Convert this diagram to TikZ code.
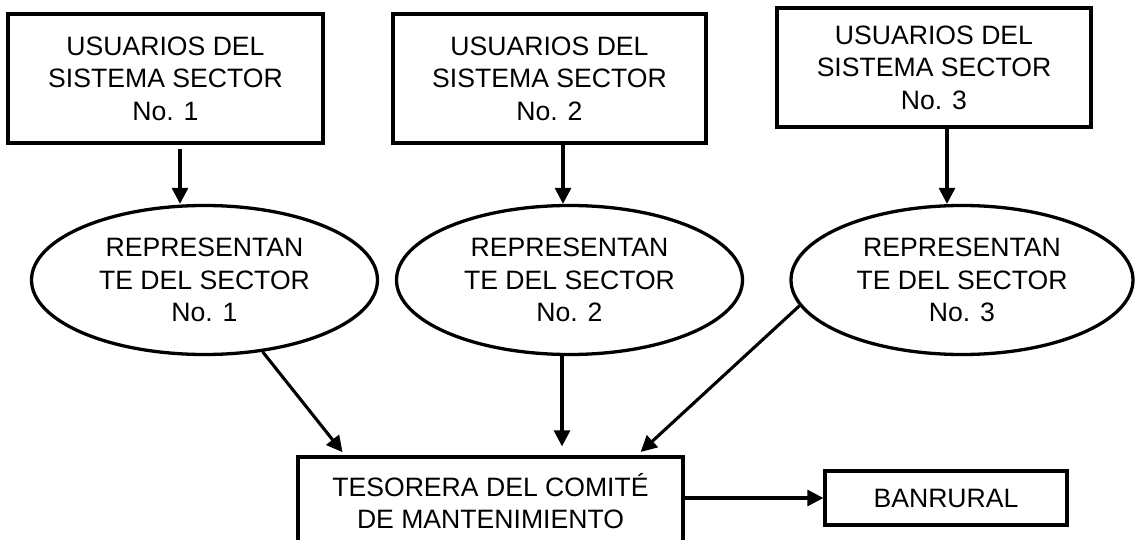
\documentclass[tikz,border=0pt]{standalone}
\usepackage{fontspec}
\setmainfont{Liberation Sans}
\usetikzlibrary{shapes.geometric,arrows.meta}
\begin{document}
\begin{tikzpicture}[x=1pt,y=-1pt,
  lw/.style={line width=3.3pt},
  txt/.style={align=center,font=\fontsize{26.6}{32.5}\selectfont},
  sqbox/.style={lw,draw,rectangle,inner sep=0pt,txt},
  oval/.style={lw,draw,ellipse,inner sep=0pt,txt,minimum width=346pt,minimum height=149pt},
  arr/.style={line width=3.1pt,-{Triangle[length=16pt,width=16pt]}}]
\useasboundingbox (0,0) rectangle (1135,540);
\node[sqbox,minimum width=315pt,minimum height=129pt] (b1) at (165.5,78.5) {USUARIOS DEL\\SISTEMA SECTOR\\No. 1};
\node[sqbox,minimum width=313pt,minimum height=129pt] (b2) at (549.5,78.5) {USUARIOS DEL\\SISTEMA SECTOR\\No. 2};
\node[sqbox,minimum width=314pt,minimum height=119pt] (b3) at (934,67.5) {USUARIOS DEL\\SISTEMA SECTOR\\No. 3};
\node[oval] (e1) at (204.5,280) {REPRESENTAN\\TE DEL SECTOR\\No. 1};
\node[oval] (e2) at (569.5,280) {REPRESENTAN\\TE DEL SECTOR\\No. 2};
\node[oval,minimum width=342pt] (e3) at (962,280) {REPRESENTAN\\TE DEL SECTOR\\No. 3};
\node[sqbox,minimum width=385pt,minimum height=88pt,font=\fontsize{26.6}{31.5}\selectfont] (tes) at (490.5,501) {TESORERA DEL COMITÉ\\DE MANTENIMIENTO};
\node[sqbox,minimum width=242pt,minimum height=54pt] (ban) at (946,498) {BANRURAL};
\draw[arr,shorten <=4pt] (b1.south -| 180,0) -- (e1.north -| 180,0);
\draw[arr] (b2.south -| 563,0) -- (e2.north -| 563,0);
\draw[arr] (b3.south -| 947,0) -- (e3.north -| 947,0);
\draw[arr,shorten >=4pt] (e1.-51) -- (tes.north -| 345,0);
\draw[arr,shorten >=9pt] (e2.south -| 562,0) -- (tes.north -| 562,0);
\draw[arr,shorten >=5pt] (e3.189) -- (tes.north -| 637,0);
\draw[arr] (tes.east |- ban.west) -- (ban.west);
\end{tikzpicture}
\end{document}
